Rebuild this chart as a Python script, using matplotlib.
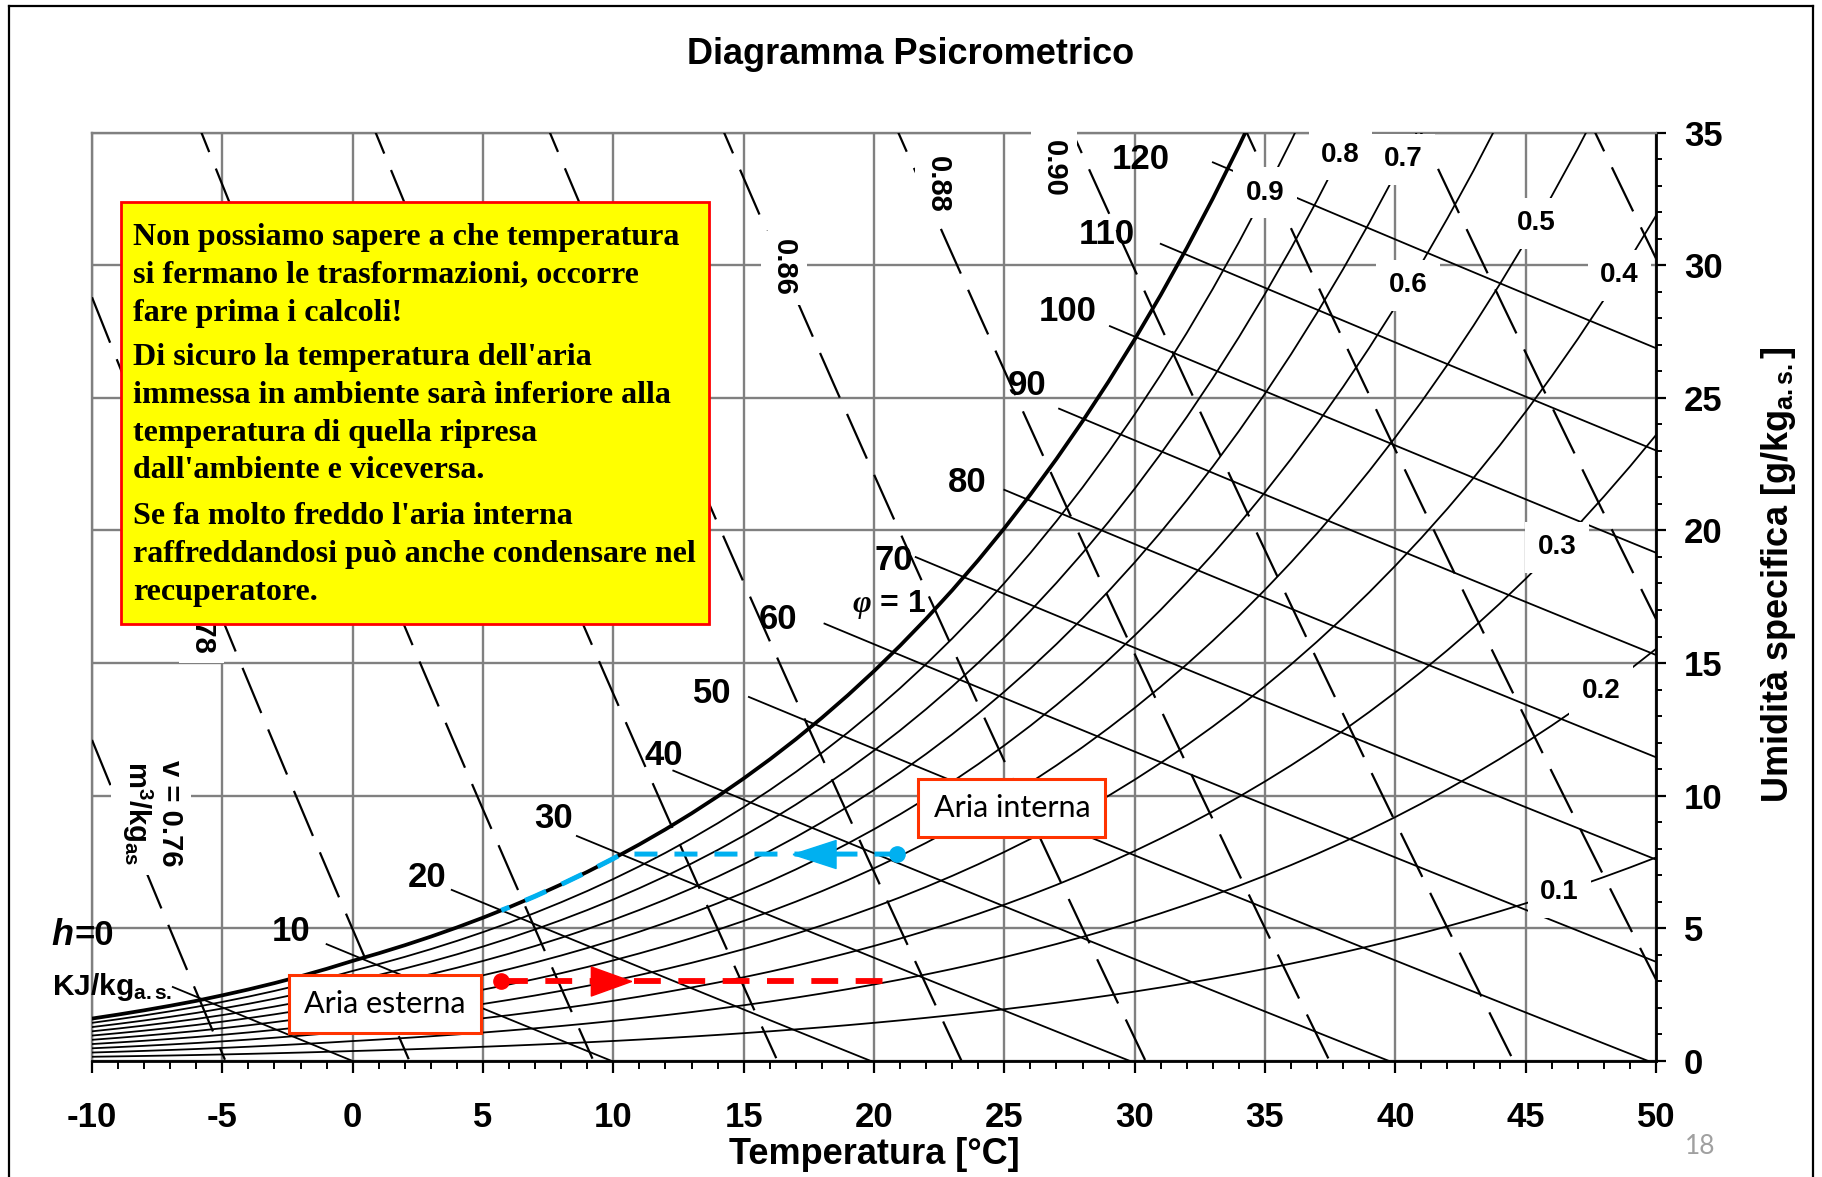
import numpy as np
import matplotlib.pyplot as plt
from matplotlib.lines import Line2D
from matplotlib.patches import Rectangle

W, H = 1822, 1177

# ---- chart data ------------------------------------------------------------
temps = np.arange(-10, 51)  # °C
# saturation vapour pressure [kPa] (over ice below 0 °C)
p_sat = np.array([
    0.2599, 0.2842, 0.3102, 0.3381, 0.3680, 0.4017, 0.4374, 0.4760, 0.5176, 0.5626,
    0.6112, 0.6571, 0.7060, 0.7581, 0.8135, 0.8725, 0.9353, 1.0020, 1.0729, 1.1481,
    1.2281, 1.3129, 1.4027, 1.4979, 1.5988, 1.7057, 1.8185, 1.9380, 2.0644, 2.1978,
    2.3388, 2.4877, 2.6447, 2.8104, 2.9850, 3.1690, 3.3629, 3.5670, 3.7818, 4.0078,
    4.2455, 4.4953, 4.7578, 5.0335, 5.3229, 5.6267, 5.9453, 6.2795, 6.6298, 6.9969,
    7.3814, 7.7840, 8.2054, 8.6463, 9.1075, 9.5898, 10.094, 10.620, 11.171, 11.745,
    12.344])
p_atm = 101.325

phi_levels = [0.1, 0.2, 0.3, 0.4, 0.5, 0.6, 0.7, 0.8, 0.9]
phi_label_t = [46.3, 47.9, 46.2, 48.6, 45.4, 40.5, 40.3, 37.9, 35.0]

h_levels = [0, 10, 20, 30, 40, 50, 60, 70, 80, 90, 100, 110, 120]
h_start_t = [-6.9, -1.0, 3.8, 8.6, 12.3, 15.2, 18.1, 21.6, 25.0, 27.1, 29.05, 31.0, 33.0]
h_label_t = [None, -2.35, 2.87, 7.70, 11.92, 13.80, 16.30, 20.77, 23.59, 25.89, 27.42, 28.92, 30.24]
h_label_x = [None, 4.88, 6.92, 9.14, 11.53, 13.85, 16.64, 18.85, 21.81, 25.48, 28.25, 31.15, 33.98]

v_levels = [0.76, 0.78, 0.80, 0.82, 0.84, 0.86, 0.88, 0.90, 0.92, 0.94, 0.96]
v_label_text = ['v = 0.76\nm$^\\mathrm{3}$/kg$_\\mathrm{as}$', '0.78', '0.86', '0.88', '0.90']
v_label_t = [-7.7, -5.8, 16.55, 22.45, 26.9]
v_label_x = [9.35, 16.4, 29.9, 33.05, 33.65]

x_ticks = list(range(-10, 51, 5))
y_ticks = list(range(0, 36, 5))

# air transformations
t_int, x_int, t_int_end = 20.9, 7.8, 5.7
t_ext, x_ext, t_ext_end = 5.7, 3.0, 21.0
arrow_int_t, arrow_ext_t = 17.7, 9.9

note_paragraphs = [
    "Non possiamo sapere a che temperatura\nsi fermano le trasformazioni, occorre\nfare prima i calcoli!",
    "Di sicuro la temperatura dell'aria\nimmessa in ambiente sarà inferiore alla\ntemperatura di quella ripresa\ndall'ambiente e viceversa.",
    "Se fa molto freddo l'aria interna\nraffreddandosi può anche condensare nel\nrecuperatore.",
]

# ---- style -----------------------------------------------------------------
plt.rcParams['font.family'] = ['Liberation Sans', 'DejaVu Sans']
plt.rcParams['font.weight'] = 'bold'
plt.rcParams['axes.unicode_minus'] = False
plt.rcParams['mathtext.fontset'] = 'custom'
plt.rcParams['mathtext.rm'] = 'Liberation Sans:bold'
plt.rcParams['mathtext.it'] = 'Liberation Serif:italic:bold'


def fx(px):
    return px / W


def fy(py):
    return 1 - py / H


def x_from_pv(pv):
    return 622 * pv / (p_atm - pv)


x_sat = x_from_pv(p_sat)

fig = plt.figure(figsize=(W / 100, H / 100), dpi=100)
ax = fig.add_axes([fx(92), fy(1061), (1656 - 92) / W, (1061 - 132.5) / H])
ax.set_xlim(-10, 50)
ax.set_ylim(0, 35)

# grid / spines / ticks
ax.set_axisbelow(True)
ax.grid(True, color='#808080', lw=1.7)
for s in ('left', 'top'):
    ax.spines[s].set_color('#808080')
    ax.spines[s].set_linewidth(1.7)
for s in ('bottom', 'right'):
    ax.spines[s].set_linewidth(2)
ax.yaxis.tick_right()
ax.set_xticks(x_ticks)
ax.set_xticklabels([str(t) for t in x_ticks])
ax.set_xticks(np.arange(-10, 51), minor=True)
ax.set_yticks(y_ticks)
ax.set_yticklabels([str(t) for t in y_ticks])
ax.set_yticks(np.arange(0, 36), minor=True)
ax.tick_params(axis='x', which='major', direction='out', length=8.5, width=1.6,
               pad=20, labelsize=25)
ax.tick_params(axis='x', which='minor', direction='out', length=5.5, width=1.4)
ax.tick_params(axis='y', which='major', direction='out', length=7, width=1.6,
               pad=13, labelsize=25)
ax.tick_params(axis='y', which='minor', direction='out', length=4.3, width=1.4)

# relative humidity curves
for phi in phi_levels:
    ax.plot(temps, x_from_pv(phi * p_sat), color='k', lw=1.3, zorder=3)
ax.plot(temps, x_sat, color='k', lw=2.7, zorder=4)

# enthalpy lines
for h, t0 in zip(h_levels, h_start_t):
    t1 = min(h / 1.006, 50)
    tt = np.linspace(t0, t1, 40)
    ax.plot(tt, (h - 1.006 * tt) / (2501 + 1.86 * tt) * 1000, color='k', lw=1.3, zorder=3)
for h, tl, xl in zip(h_levels, h_label_t, h_label_x):
    if tl is not None:
        ax.text(tl, xl, str(h), ha='center', va='center', fontsize=25, zorder=6)

# specific volume lines
tv = np.linspace(-10, 50, 1201)
for v in v_levels:
    xv = (v * p_atm / (0.28705 * (tv + 273.15)) - 1) / 1.6078 * 1000
    m = (xv >= 0) & (xv <= 36)
    ax.plot(tv[m], xv[m], color='k', lw=1.6, dashes=(22, 8), zorder=3)
for txt, tl, xl in zip(v_label_text, v_label_t, v_label_x):
    ax.text(tl, xl, txt, ha='center', va='center', rotation=-90, fontsize=21,
            linespacing=1.1, zorder=6, clip_on=False,
            bbox=dict(boxstyle='square,pad=0.3', fc='white', ec='none'))

# RH labels
for phi, tl in zip(phi_levels, phi_label_t):
    xl = x_from_pv(phi * np.interp(tl, temps, p_sat))
    ax.text(tl, xl, f'{phi:.1f}', ha='center', va='center', fontsize=20, zorder=6,
            clip_on=False, bbox=dict(boxstyle='square,pad=0.45', fc='white', ec='none'))
ax.text(20.57, 17.19, '$\\varphi$ = 1', ha='center', va='center', fontsize=23, zorder=6)

# h = 0 label (outside the axes on the left)
fig.text(fx(73), fy(945), 'h', ha='right', va='baseline', fontsize=26, style='italic')
fig.text(fx(75), fy(945), '=0', ha='left', va='baseline', fontsize=25)
fig.text(fx(52), fy(995), 'KJ/kg$_\\mathrm{a.s.}$', ha='left', va='baseline', fontsize=21.5)

# internal air: cooled, then condensing along saturation
t_dew = np.interp(x_int, x_sat, temps)
sel = (temps < t_dew) & (temps > t_int_end)
path_t = [t_int, t_dew] + list(temps[sel][::-1]) + [t_int_end]
path_x = [x_int, x_int] + list(x_sat[sel][::-1]) + [np.interp(t_int_end, temps, x_sat)]
blue = '#00B0F0'
ax.plot(path_t, path_x, color=blue, lw=3.6, dashes=(4.6, 3.4), zorder=7)
ax.plot([t_int], [x_int], 'o', color=blue, ms=11, zorder=8)
tri_l = [(-1, 0), (1, 0.65), (1, -0.65), (-1, 0)]
ax.plot([arrow_int_t], [x_int], marker=tri_l, color=blue, ms=31, lw=0, zorder=8)

# external air: heated at constant humidity
red = '#FF0000'
ax.plot([t_ext, t_ext_end], [x_ext, x_ext], color=red, lw=4.2, dashes=(4.6, 3.0), zorder=7)
ax.plot([t_ext], [x_ext], 'o', color=red, ms=11, zorder=8)
tri_r = [(1, 0), (-1, 0.72), (-1, -0.72), (1, 0)]
ax.plot([arrow_ext_t], [x_ext], marker=tri_r, color=red, ms=29, lw=0, zorder=8)

box_kw = dict(boxstyle='square,pad=0.5', fc='white', ec='#FF3300', lw=2.2)
ax.text(25.29, 9.54, 'Aria interna', ha='center', va='center', fontsize=22,
        family='Lato', weight='normal', zorder=9, bbox=box_kw)
ax.text(1.24, 2.15, 'Aria esterna', ha='center', va='center', fontsize=22,
        family='Lato', weight='normal', zorder=9, bbox=box_kw)

# yellow note
fig.patches.append(Rectangle((fx(121), fy(624)), (709 - 121) / W, (624 - 202) / H,
                             transform=fig.transFigure, fc='#FFFF00', ec='#FF0000',
                             lw=2, zorder=5))
for para, top in zip(note_paragraphs, [223, 343, 502]):
    fig.text(fx(133), fy(top), para, ha='left', va='top', fontsize=23,
             family='Liberation Serif', linespacing=1.4, zorder=6)

# titles and labels
fig.text(0.5, fy(54), 'Diagramma Psicrometrico', ha='center', va='center', fontsize=26)
fig.text(fx(874), fy(1154), 'Temperatura [°C]', ha='center', va='center', fontsize=26)
fig.text(fx(1778), fy(575), 'Umidità specifica [g/kg$_\\mathrm{a.s.}$]', ha='center',
         va='center', rotation=90, fontsize=26)
fig.text(fx(1700), fy(1147), '18', ha='center', va='center', fontsize=19,
         family='Lato', weight='normal', color='#A0A0A0')

# slide frame
for xs, ys in [([9, 9], [1177, 6]), ([9, 1813], [6, 6]), ([1813, 1813], [6, 1177])]:
    fig.add_artist(Line2D([fx(a) for a in xs], [fy(b) for b in ys],
                          transform=fig.transFigure, color='k', lw=1.6))

fig.savefig('out.png', dpi=100)
